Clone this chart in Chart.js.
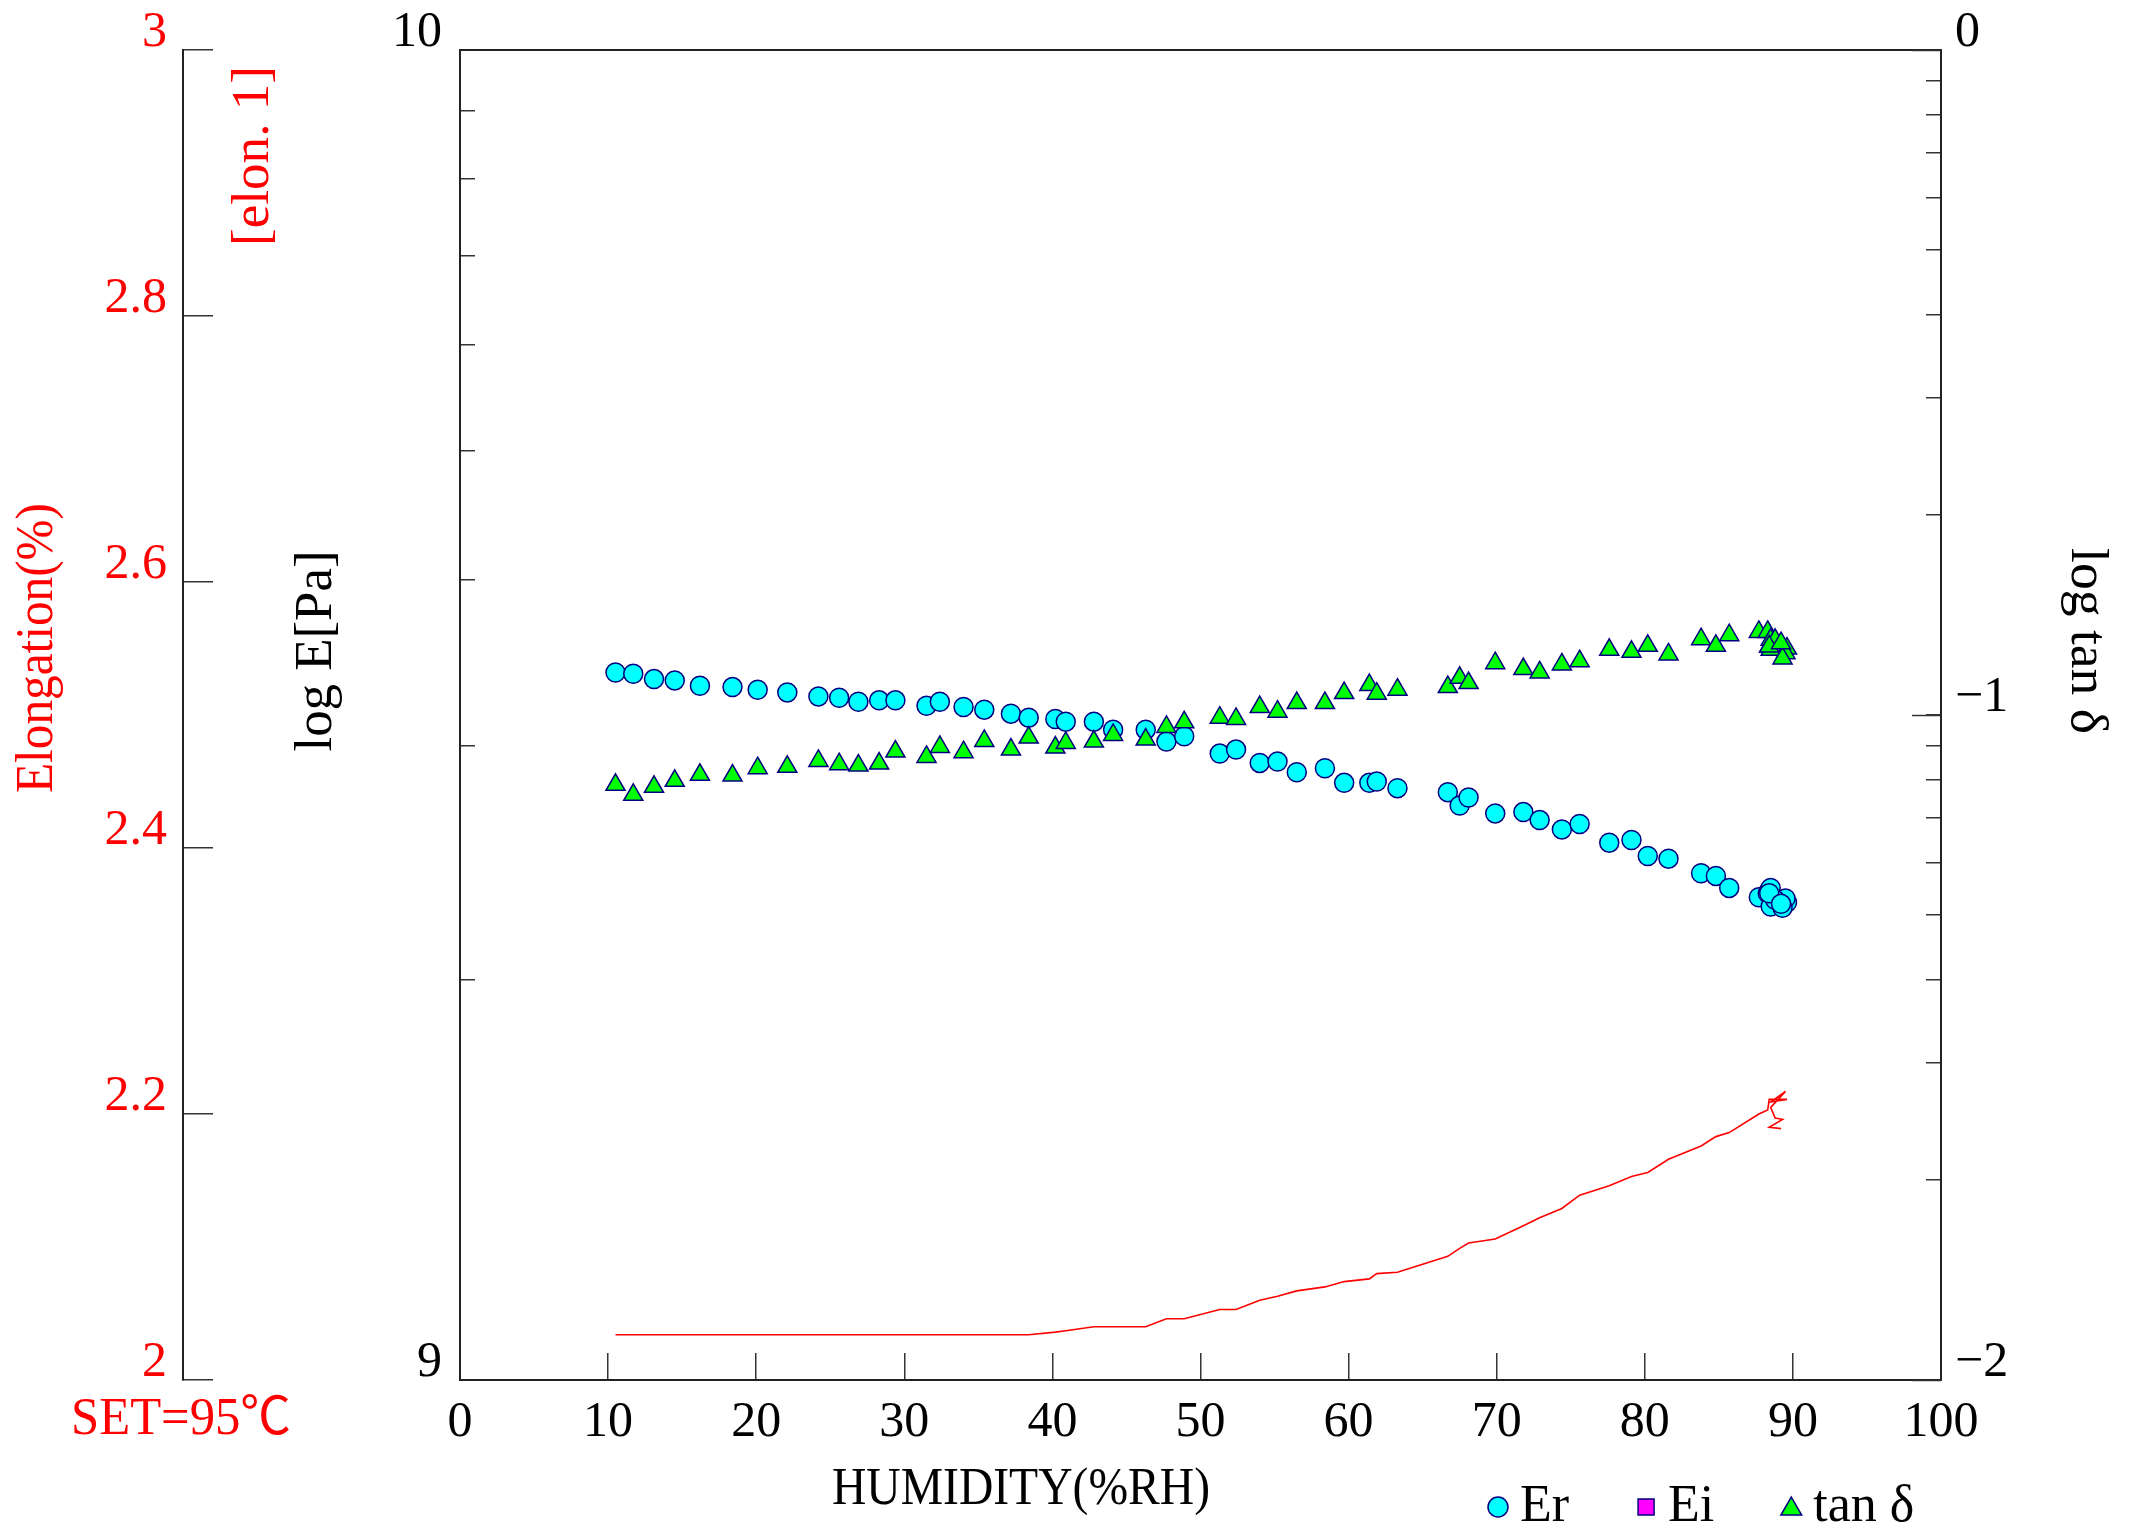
<!DOCTYPE html>
<html>
<head>
<meta charset="utf-8">
<script src="https://cdn.jsdelivr.net/npm/chart.js@4.4.0/dist/chart.umd.min.js"></script>
<style>
html,body{margin:0;padding:0;background:#ffffff;}
#wrap{width:2133px;height:1530px;position:relative;}
</style>
</head>
<body>
<div id="wrap"><canvas id="c" width="2133" height="1530"></canvas></div>
<script>
// ---------------- data ----------------
const humidity = [10.5, 11.7, 13.1, 14.5, 16.2, 18.4, 20.1, 22.1, 24.2, 25.6,
  26.9, 28.3, 29.4, 31.5, 32.4, 34.0, 35.4, 37.2, 38.4, 40.2,
  40.9, 42.8, 44.1, 46.3, 47.7, 48.9, 51.3, 52.4, 54.0, 55.2,
  56.5, 58.4, 59.7, 61.4, 61.9, 63.3, 66.7, 67.5, 68.1, 69.9,
  71.8, 72.9, 74.4, 75.6, 77.6, 79.1, 80.2, 81.6, 83.8, 84.8,
  85.7, 87.7, 88.3, 88.4, 89.6, 88.5, 89.5, 88.5, 88.8, 89.3, 88.4, 89.2];

const logEr = [9.532, 9.531, 9.527, 9.526, 9.522, 9.521, 9.519, 9.517, 9.514, 9.513,
  9.510, 9.511, 9.511, 9.507, 9.510, 9.506, 9.504, 9.501, 9.498, 9.497,
  9.495, 9.495, 9.489, 9.489, 9.480, 9.484, 9.471, 9.474, 9.464, 9.465,
  9.457, 9.460, 9.449, 9.449, 9.450, 9.445, 9.442, 9.432, 9.438, 9.426,
  9.427, 9.421, 9.414, 9.418, 9.404, 9.406, 9.394, 9.392, 9.381, 9.379,
  9.370, 9.363, 9.366, 9.368, 9.359, 9.356, 9.362, 9.370, 9.361, 9.355, 9.366, 9.358];

const logEi = []; // no Ei marks visible inside the plotted range

const logTanDelta = [-1.105, -1.120, -1.108, -1.099, -1.090, -1.091, -1.080, -1.078, -1.069, -1.074,
  -1.076, -1.073, -1.055, -1.063, -1.048, -1.056, -1.039, -1.052, -1.034, -1.049,
  -1.042, -1.040, -1.030, -1.037, -1.018, -1.011, -1.004, -1.006, -0.988, -0.995,
  -0.982, -0.982, -0.967, -0.955, -0.968, -0.962, -0.958, -0.944, -0.952, -0.922,
  -0.931, -0.936, -0.924, -0.919, -0.902, -0.905, -0.896, -0.909, -0.886, -0.896,
  -0.880, -0.875, -0.875, -0.897, -0.900, -0.887, -0.907, -0.902, -0.887, -0.915, -0.897, -0.892];

const elongation = [2.034, 2.034, 2.034, 2.034, 2.034, 2.034, 2.034, 2.034, 2.034, 2.034,
  2.034, 2.034, 2.034, 2.034, 2.034, 2.034, 2.034, 2.034, 2.034, 2.036,
  2.037, 2.040, 2.040, 2.040, 2.046, 2.046, 2.053, 2.053, 2.060, 2.063,
  2.067, 2.070, 2.074, 2.076, 2.080, 2.081, 2.093, 2.099, 2.103, 2.106,
  2.116, 2.122, 2.129, 2.139, 2.146, 2.153, 2.156, 2.166, 2.176, 2.183,
  2.186, 2.200, 2.203, 2.211, 2.211, 2.209, 2.217, 2.205, 2.197, 2.196, 2.190, 2.189];

// ---------------- ticks ----------------
const xTickValues = [0, 10, 20, 30, 40, 50, 60, 70, 80, 90, 100];
const xTickLabels = ['0', '10', '20', '30', '40', '50', '60', '70', '80', '90', '100'];
const elongTickValues = [2, 2.2, 2.4, 2.6, 2.8, 3];
const elongTickLabels = ['2', '2.2', '2.4', '2.6', '2.8', '3'];
const logEMajor = [9, 10];
const logEMajorLabels = ['9', '10'];
const logTanMajor = [-2, -1, 0];
const logTanMajorLabels = ['\u22122', '\u22121', '0'];
const minorMultiples = [2, 3, 4, 5, 6, 7, 8, 9];

function decadeTicks(majors) {
  const out = [];
  for (let i = 0; i < majors.length; i++) {
    out.push(majors[i]);
    if (i < majors.length - 1) minorMultiples.forEach(m => out.push(majors[i] + Math.log10(m)));
  }
  return out;
}
function majorLabel(v, majors, labels) {
  for (let i = 0; i < majors.length; i++) if (Math.abs(v - majors[i]) < 1e-9) return labels[i];
  return '';
}

// ---------------- styles ----------------
const FONT = "'Liberation Serif', 'Noto Sans CJK JP', serif";
const RED = '#ff0000';
const AXIS = '#222222';
const TICK = '#333333';

const pts = (ys) => ys.map((y, i) => ({x: humidity[i], y: y}));

const titles = [
  {text: 'Elongation(%)', x: 38, y: 648, rot: -90, w: 290, color: RED},
  {text: '[elon. 1]', x: 254, y: 156, rot: -90, w: 180, color: RED},
  {text: 'log E[Pa]', x: 317, y: 651, rot: -90, w: 201, color: '#000'},
  {text: 'log tan \u03b4', x: 2086, y: 641, rot: 90, w: 186, color: '#000'},
  {text: 'HUMIDITY(%RH)', x: 1021, y: 1490, rot: 0, w: 378, color: '#000'},
  {text: 'SET=95\u2103', x: 181, y: 1420, rot: 0, w: 220, color: RED}
];

function drawMarker(ctx, style, x, y, r, fill, stroke, bw) {
  ctx.beginPath();
  if (style === 'circle') ctx.arc(x, y, r, 0, Math.PI * 2);
  else if (style === 'rect') ctx.rect(x - r, y - r, 2 * r, 2 * r);
  else {
    ctx.moveTo(x, y - r);
    ctx.lineTo(x + r * 0.866, y + r * 0.5);
    ctx.lineTo(x - r * 0.866, y + r * 0.5);
    ctx.closePath();
  }
  ctx.fillStyle = fill; ctx.fill();
  ctx.lineWidth = bw; ctx.strokeStyle = stroke; ctx.stroke();
}

const decor = {
  id: 'decor',
  afterDraw(chart) {
    const ctx = chart.ctx;
    // axis titles
    titles.forEach(t => {
      ctx.save();
      ctx.font = '52px ' + FONT;
      ctx.fillStyle = t.color;
      ctx.textAlign = 'center';
      ctx.textBaseline = 'middle';
      ctx.translate(t.x, t.y);
      ctx.rotate(t.rot * Math.PI / 180);
      const w = ctx.measureText(t.text).width;
      ctx.scale(t.w / w, 1);
      ctx.fillText(t.text, 0, 0);
      ctx.restore();
    });
    // longer major tick on the tan-delta axis
    const yT = chart.scales.yT;
    ctx.save();
    ctx.strokeStyle = TICK; ctx.lineWidth = 1.5;
    logTanMajor.forEach(v => {
      const py = Math.round(yT.getPixelForValue(v)) + 0.5;
      ctx.beginPath(); ctx.moveTo(yT.left, py); ctx.lineTo(yT.left - 29, py); ctx.stroke();
    });
    ctx.restore();
    // legend
    const order = ['Er', 'Ei', 'tan \u03b4'];
    let lx = 1498;
    const ly = 1507;
    ctx.save();
    ctx.font = '52px ' + FONT;
    ctx.textBaseline = 'middle';
    ctx.textAlign = 'left';
    order.forEach(lbl => {
      const ds = chart.data.datasets.find(d => d.label === lbl);
      const r = ds.pointStyle === 'circle' ? 10 : (ds.pointStyle === 'rect' ? 8 : 12);
      drawMarker(ctx, ds.pointStyle, lx, ly + (ds.pointStyle === 'triangle' ? 2 : 0), r, ds.backgroundColor, ds.borderColor, 1.5);
      ctx.fillStyle = '#000';
      ctx.fillText(lbl, lx + 22, ly);
      lx += 22 + ctx.measureText(lbl).width + 77;
    });
    ctx.restore();
  }
};

const tickFont = {family: FONT, size: 50};
const noPad = s => { s.paddingTop = 0; s.paddingBottom = 0; s.paddingLeft = 0; s.paddingRight = 0; };

new Chart(document.getElementById('c'), {
  type: 'scatter',
  data: {
    datasets: [
      {label: 'tan \u03b4', data: pts(logTanDelta), yAxisID: 'yT', xAxisID: 'x', pointStyle: 'triangle',
       pointRadius: 11, backgroundColor: '#00ff00', borderColor: '#000080', borderWidth: 1.5, order: 1},
      {label: 'Er', data: pts(logEr), yAxisID: 'yE', xAxisID: 'x', pointStyle: 'circle',
       pointRadius: 9.5, backgroundColor: '#00ffff', borderColor: '#000080', borderWidth: 1.5, order: 2},
      {label: 'Ei', data: pts(logEi), yAxisID: 'yE', xAxisID: 'x', pointStyle: 'rect',
       pointRadius: 8, backgroundColor: '#ff00ff', borderColor: '#000080', borderWidth: 1.5, order: 3},
      {label: 'elon. 1', type: 'line', data: pts(elongation), yAxisID: 'yEl', xAxisID: 'x',
       borderColor: RED, borderWidth: 1.6, pointRadius: 0, fill: false, tension: 0, showLine: true, order: 4}
    ]
  },
  options: {
    responsive: false,
    animation: false,
    devicePixelRatio: 1,
    events: [],
    layout: {padding: {top: 50, left: 0, right: 0, bottom: 0}},
    plugins: {legend: {display: false}, tooltip: {enabled: false}, title: {display: false}},
    scales: {
      x: {
        type: 'linear', position: 'bottom', min: 0, max: 100,
        afterBuildTicks: s => { s.ticks = xTickValues.map(v => ({value: v})); },
        ticks: {callback: (v, i) => xTickLabels[i], font: tickFont, color: '#000', padding: 40,
                maxRotation: 0, autoSkip: false},
        grid: {drawOnChartArea: false, drawTicks: true, tickLength: -27, color: TICK, lineWidth: 1.5},
        border: {display: true, color: AXIS, width: 2},
        afterFit: s => { s.height = 150; noPad(s); }
      },
      xTop: {
        type: 'linear', position: 'top', min: 0, max: 100,
        ticks: {display: false},
        grid: {display: false, drawTicks: false},
        border: {display: true, color: AXIS, width: 2},
        afterFit: s => { s.height = 0; noPad(s); }
      },
      yEl: {
        type: 'linear', position: 'left', min: 2, max: 3, weight: 1,
        afterBuildTicks: s => { s.ticks = elongTickValues.map(v => ({value: v})); },
        ticks: {callback: (v, i) => elongTickLabels[i], font: tickFont, color: RED, padding: 46,
                labelOffset: -17, autoSkip: false},
        grid: {drawOnChartArea: false, drawTicks: true, tickLength: -30, color: TICK, lineWidth: 1.5},
        border: {display: true, color: AXIS, width: 2},
        afterFit: s => { s.width = 183; noPad(s); }
      },
      yE: {
        type: 'linear', position: 'left', min: 9, max: 10, weight: 0,
        afterBuildTicks: s => { s.ticks = decadeTicks(logEMajor).map(v => ({value: v})); },
        ticks: {callback: v => majorLabel(v, logEMajor, logEMajorLabels), font: tickFont, color: '#000',
                padding: 33, labelOffset: -17, autoSkip: false},
        grid: {drawOnChartArea: false, drawTicks: true, tickLength: -15, color: TICK, lineWidth: 1.5},
        border: {display: true, color: AXIS, width: 2},
        afterFit: s => { s.width = 277; noPad(s); }
      },
      yT: {
        type: 'linear', position: 'right', min: -2, max: 0,
        afterBuildTicks: s => { s.ticks = decadeTicks(logTanMajor).map(v => ({value: v})); },
        ticks: {callback: v => majorLabel(v, logTanMajor, logTanMajorLabels), font: tickFont, color: '#000',
                padding: 29, labelOffset: -17, autoSkip: false},
        grid: {drawOnChartArea: false, drawTicks: true, tickLength: -15, color: TICK, lineWidth: 1.5},
        border: {display: true, color: AXIS, width: 2},
        afterFit: s => { s.width = 192; noPad(s); }
      }
    }
  },
  plugins: [decor]
});
</script>
</body>
</html>
